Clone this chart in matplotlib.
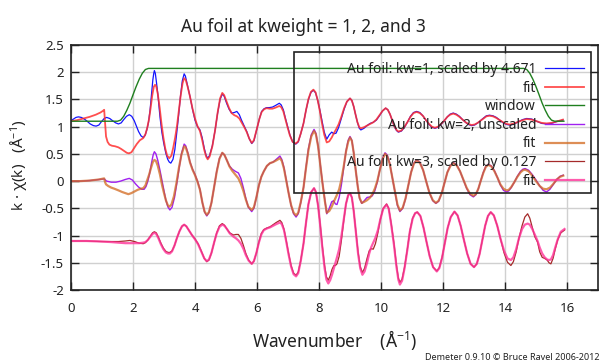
import matplotlib
matplotlib.use("Agg")
import matplotlib.pyplot as plt
from matplotlib.patches import Rectangle

plt.rcParams["font.family"] = ["Noto Sans", "DejaVu Sans"]
plt.rcParams["mathtext.default"] = "regular"

# ---- data, (k, value) ----
# kw=1, scaled by 4.671 (shifted up by 1.1)
kw1_pts = [
    (0.0, 1.11), (0.08, 1.14), (0.16, 1.17), (0.24, 1.18), (0.33, 1.17), (0.43, 1.14), (0.52, 1.10),
    (0.62, 1.05), (0.72, 1.02), (0.81, 1.01), (0.9, 1.03), (0.98, 1.09), (1.07, 1.15), (1.15, 1.17),
    (1.25, 1.15), (1.34, 1.11), (1.44, 1.07), (1.53, 1.05), (1.62, 1.07), (1.7, 1.13), (1.79, 1.19),
    (1.88, 1.22), (1.96, 1.19), (2.04, 1.11), (2.11, 1.01), (2.18, 0.91), (2.26, 0.83), (2.33, 0.80),
    (2.39, 0.84), (2.45, 0.95), (2.5, 1.08), (2.55, 1.30), (2.6, 1.62), (2.64, 1.86), (2.67, 1.98),
    (2.69, 2.03), (2.72, 1.98), (2.76, 1.80), (2.81, 1.55), (2.87, 1.18), (2.93, 0.90), (2.99, 0.70),
    (3.06, 0.51), (3.12, 0.40), (3.17, 0.35), (3.22, 0.33), (3.29, 0.40), (3.35, 0.58), (3.41, 0.88),
    (3.47, 1.20), (3.53, 1.55), (3.59, 1.84), (3.65, 1.97), (3.69, 1.93), (3.75, 1.78), (3.84, 1.55),
    (3.92, 1.32), (4.0, 1.12), (4.08, 1.00), (4.16, 0.94), (4.23, 0.80), (4.3, 0.60), (4.36, 0.47),
    (4.41, 0.42), (4.47, 0.47), (4.56, 0.65), (4.65, 0.94), (4.73, 1.25), (4.81, 1.50), (4.88, 1.60),
    (4.94, 1.56), (5.02, 1.43), (5.1, 1.32), (5.18, 1.25), (5.27, 1.26), (5.35, 1.28), (5.43, 1.22),
    (5.5, 1.12), (5.59, 1.01), (5.67, 0.91), (5.75, 0.78), (5.83, 0.69), (5.9, 0.74), (6.0, 0.97),
    (6.08, 1.15), (6.15, 1.28), (6.23, 1.33), (6.31, 1.35), (6.4, 1.35), (6.5, 1.36), (6.6, 1.39),
    (6.72, 1.43), (6.78, 1.40), (6.85, 1.31), (6.91, 1.17), (6.98, 1.02), (7.06, 0.85), (7.15, 0.72),
    (7.25, 0.68), (7.33, 0.72), (7.41, 0.87), (7.5, 1.06), (7.58, 1.30), (7.66, 1.50), (7.74, 1.63),
    (7.82, 1.67), (7.89, 1.62), (7.96, 1.48), (8.03, 1.30), (8.1, 1.10), (8.17, 0.90), (8.25, 0.77),
    (8.33, 0.85), (8.41, 0.90), (8.48, 0.87), (8.55, 0.88), (8.63, 0.98), (8.72, 1.15), (8.81, 1.32),
    (8.9, 1.46), (9.0, 1.52), (9.06, 1.48), (9.12, 1.37), (9.18, 1.22), (9.24, 1.08), (9.3, 0.97),
    (9.35, 0.94), (9.45, 0.97), (9.55, 1.02), (9.65, 1.06), (9.75, 1.08), (9.85, 1.12), (9.95, 1.20),
    (10.05, 1.29), (10.15, 1.34), (10.22, 1.31), (10.29, 1.23), (10.36, 1.12), (10.43, 1.00),
    (10.5, 0.93), (10.56, 0.90), (10.66, 0.92), (10.76, 0.99), (10.86, 1.09), (10.95, 1.19),
    (11.05, 1.26), (11.15, 1.28), (11.25, 1.26), (11.35, 1.20), (11.45, 1.12), (11.55, 1.04),
    (11.64, 0.99), (11.74, 0.97), (11.84, 0.99), (11.94, 1.04), (12.04, 1.11), (12.14, 1.18),
    (12.23, 1.23), (12.33, 1.25), (12.43, 1.23), (12.53, 1.19), (12.63, 1.13), (12.73, 1.08),
    (12.82, 1.04), (12.92, 1.02), (13.02, 1.03), (13.12, 1.07), (13.21, 1.11), (13.31, 1.16),
    (13.4, 1.20), (13.5, 1.21), (13.61, 1.20), (13.72, 1.17), (13.83, 1.12), (13.94, 1.07),
    (14.05, 1.04), (14.16, 1.03), (14.3, 1.05), (14.43, 1.09), (14.57, 1.13), (14.7, 1.15),
    (14.86, 1.14), (15.02, 1.10), (15.18, 1.06), (15.34, 1.05), (15.5, 1.06), (15.7, 1.10), (15.87, 1.12),
]

fit1_pts = [
    (0.0, 1.10), (0.2, 1.12), (0.4, 1.15), (0.6, 1.18), (0.8, 1.22), (0.95, 1.26), (1.03, 1.29),
    (1.07, 1.31), (1.10, 1.05), (1.13, 0.82), (1.18, 0.72), (1.24, 0.67), (1.32, 0.65), (1.42, 0.64),
    (1.53, 0.62), (1.62, 0.59), (1.72, 0.55), (1.8, 0.52), (1.87, 0.51), (1.95, 0.53), (2.03, 0.60),
    (2.12, 0.68), (2.22, 0.75), (2.33, 0.79), (2.4, 0.86), (2.46, 0.98), (2.52, 1.15), (2.57, 1.35),
    (2.62, 1.57), (2.67, 1.73), (2.71, 1.77), (2.75, 1.74), (2.8, 1.60), (2.86, 1.35), (2.92, 1.05),
    (2.98, 0.80), (3.04, 0.60), (3.1, 0.47), (3.17, 0.42), (3.24, 0.47), (3.3, 0.62), (3.36, 0.80),
    (3.42, 1.02), (3.48, 1.30), (3.54, 1.58), (3.6, 1.80), (3.65, 1.89), (3.7, 1.86), (3.76, 1.74),
    (3.84, 1.55), (3.92, 1.33), (4.0, 1.15), (4.08, 1.01), (4.16, 0.92), (4.23, 0.76), (4.3, 0.57),
    (4.36, 0.45), (4.41, 0.40), (4.47, 0.45), (4.56, 0.64), (4.65, 0.94), (4.73, 1.26), (4.81, 1.52),
    (4.88, 1.62), (4.94, 1.58), (5.02, 1.46), (5.1, 1.34), (5.18, 1.25), (5.27, 1.21), (5.35, 1.19),
    (5.43, 1.15), (5.5, 1.08), (5.59, 0.99), (5.67, 0.90), (5.75, 0.78), (5.83, 0.70), (5.9, 0.75),
    (6.0, 0.97), (6.08, 1.15), (6.15, 1.27), (6.23, 1.32), (6.31, 1.34), (6.4, 1.33), (6.5, 1.33),
    (6.6, 1.35), (6.72, 1.38), (6.78, 1.36), (6.85, 1.28), (6.91, 1.15), (6.98, 1.00), (7.06, 0.84),
    (7.15, 0.72), (7.25, 0.69), (7.33, 0.73), (7.41, 0.87), (7.5, 1.06), (7.58, 1.30), (7.66, 1.51),
    (7.74, 1.64), (7.82, 1.68), (7.89, 1.63), (7.96, 1.48), (8.03, 1.28), (8.1, 1.05), (8.17, 0.85),
    (8.25, 0.71), (8.33, 0.73), (8.41, 0.80), (8.48, 0.88), (8.55, 0.95), (8.63, 1.04), (8.72, 1.18),
    (8.81, 1.34), (8.9, 1.46), (9.0, 1.52), (9.06, 1.48), (9.12, 1.37), (9.18, 1.22), (9.24, 1.08),
    (9.3, 0.99), (9.35, 0.97), (9.45, 0.99), (9.55, 1.02), (9.65, 1.05), (9.75, 1.08), (9.85, 1.13),
    (9.95, 1.21), (10.05, 1.29), (10.15, 1.34), (10.22, 1.31), (10.29, 1.23), (10.36, 1.12),
    (10.43, 1.01), (10.5, 0.94), (10.56, 0.91), (10.66, 0.93), (10.76, 1.00), (10.86, 1.09),
    (10.95, 1.18), (11.05, 1.25), (11.15, 1.27), (11.25, 1.25), (11.35, 1.20), (11.45, 1.12),
    (11.55, 1.05), (11.64, 1.00), (11.74, 0.98), (11.84, 1.00), (11.94, 1.05), (12.04, 1.11),
    (12.14, 1.18), (12.23, 1.22), (12.33, 1.24), (12.43, 1.22), (12.53, 1.18), (12.63, 1.13),
    (12.73, 1.08), (12.82, 1.05), (12.92, 1.03), (13.02, 1.04), (13.12, 1.07), (13.21, 1.11),
    (13.31, 1.15), (13.4, 1.19), (13.5, 1.20), (13.61, 1.19), (13.72, 1.16), (13.83, 1.12),
    (13.94, 1.08), (14.05, 1.05), (14.16, 1.04), (14.3, 1.06), (14.43, 1.09), (14.57, 1.12),
    (14.7, 1.14), (14.86, 1.13), (15.02, 1.10), (15.18, 1.07), (15.34, 1.06), (15.5, 1.07),
    (15.7, 1.10), (15.87, 1.13),
]

# window (shifted up by 1.1)
win_pts = [
    (0.0, 1.10), (1.5, 1.10), (1.6, 1.12), (1.7, 1.19), (1.8, 1.30), (1.9, 1.43), (2.0, 1.585),
    (2.1, 1.735), (2.2, 1.87), (2.3, 1.98), (2.4, 2.05), (2.5, 2.07), (14.6, 2.07), (14.7, 2.05),
    (14.8, 1.98), (14.9, 1.87), (15.0, 1.735), (15.1, 1.585), (15.2, 1.43), (15.3, 1.30),
    (15.4, 1.19), (15.5, 1.12), (15.6, 1.10), (15.9, 1.10),
]

# kw=2, unscaled
kw2_pts = [
    (0.0, 0.0), (0.3, 0.0), (0.6, 0.01), (0.9, 0.03), (1.07, 0.04), (1.15, 0.0), (1.3, -0.02),
    (1.45, -0.02), (1.6, 0.0), (1.75, 0.03), (1.88, 0.05), (1.98, 0.02), (2.08, -0.05), (2.18, -0.11),
    (2.28, -0.15), (2.36, -0.15), (2.42, -0.10), (2.48, 0.0), (2.54, 0.15), (2.6, 0.34), (2.65, 0.48),
    (2.69, 0.54), (2.74, 0.50), (2.8, 0.38), (2.87, 0.20), (2.94, 0.0), (3.0, -0.18), (3.06, -0.35),
    (3.13, -0.48), (3.19, -0.53), (3.26, -0.48), (3.34, -0.30), (3.42, -0.02), (3.5, 0.28), (3.57, 0.52),
    (3.65, 0.68), (3.7, 0.65), (3.77, 0.52), (3.84, 0.35), (3.92, 0.22), (4.0, 0.12), (4.08, 0.0),
    (4.16, -0.15), (4.24, -0.40), (4.31, -0.57), (4.38, -0.64), (4.45, -0.58), (4.53, -0.40),
    (4.62, -0.10), (4.7, 0.18), (4.79, 0.42), (4.88, 0.52), (4.95, 0.48), (5.03, 0.38), (5.11, 0.28),
    (5.2, 0.22), (5.3, 0.18), (5.4, 0.15), (5.48, 0.05), (5.56, -0.12), (5.64, -0.32), (5.72, -0.48),
    (5.83, -0.56), (5.9, -0.50), (5.98, -0.30), (6.06, -0.08), (6.14, 0.08), (6.22, 0.18), (6.32, 0.28),
    (6.42, 0.33), (6.52, 0.35), (6.62, 0.40), (6.74, 0.46), (6.8, 0.40), (6.87, 0.25), (6.94, 0.03),
    (7.02, -0.22), (7.1, -0.45), (7.18, -0.60), (7.26, -0.66), (7.33, -0.60), (7.41, -0.40),
    (7.5, -0.12), (7.58, 0.25), (7.66, 0.60), (7.75, 0.85), (7.84, 0.95), (7.9, 0.88), (7.97, 0.65),
    (8.04, 0.32), (8.11, -0.02), (8.19, -0.35), (8.25, -0.60), (8.33, -0.50), (8.41, -0.38),
    (8.47, -0.36), (8.53, -0.42), (8.58, -0.43), (8.65, -0.30), (8.72, -0.08), (8.8, 0.25), (8.87, 0.55),
    (8.94, 0.75), (9.0, 0.82), (9.06, 0.75), (9.12, 0.52), (9.18, 0.22), (9.25, -0.10), (9.31, -0.32),
    (9.38, -0.41), (9.46, -0.36), (9.55, -0.30), (9.65, -0.29), (9.72, -0.27), (9.8, -0.18),
    (9.88, -0.02), (9.96, 0.20), (10.05, 0.42), (10.13, 0.52), (10.2, 0.48), (10.28, 0.33),
    (10.36, 0.08), (10.45, -0.20), (10.53, -0.45), (10.61, -0.56), (10.7, -0.50), (10.79, -0.33),
    (10.88, -0.08), (10.97, 0.16), (11.06, 0.33), (11.15, 0.39), (11.25, 0.35), (11.36, 0.20),
    (11.46, -0.01), (11.56, -0.21), (11.67, -0.36), (11.77, -0.41), (11.86, -0.37), (11.96, -0.22),
    (12.05, -0.03), (12.14, 0.16), (12.24, 0.29), (12.33, 0.34), (12.44, 0.30), (12.55, 0.18),
    (12.66, 0.02), (12.76, -0.13), (12.87, -0.25), (12.98, -0.29), (13.06, -0.25), (13.14, -0.14),
    (13.22, 0.01), (13.3, 0.16), (13.38, 0.27), (13.46, 0.31), (13.56, 0.28), (13.66, 0.19),
    (13.76, 0.06), (13.85, -0.07), (13.95, -0.17), (14.05, -0.20), (14.12, -0.18), (14.2, -0.12),
    (14.3, -0.02), (14.4, 0.09), (14.5, 0.18), (14.58, 0.22), (14.65, 0.23), (14.76, 0.20),
    (14.88, 0.12), (15.0, 0.02), (15.12, -0.09), (15.23, -0.17), (15.34, -0.20), (15.45, -0.15),
    (15.56, -0.06), (15.67, 0.03), (15.78, 0.09), (15.88, 0.11),
]

fit2_pts = [
    (0.0, 0.0), (0.3, 0.0), (0.6, 0.01), (0.9, 0.03), (1.07, 0.05), (1.10, -0.02), (1.13, -0.06),
    (1.2, -0.09), (1.3, -0.12), (1.4, -0.14), (1.53, -0.17), (1.65, -0.20), (1.75, -0.22), (1.85, -0.24),
    (1.95, -0.22), (2.05, -0.19), (2.15, -0.16), (2.25, -0.14), (2.33, -0.13), (2.4, -0.08), (2.46, 0.02),
    (2.52, 0.12), (2.58, 0.24), (2.64, 0.35), (2.69, 0.39), (2.74, 0.37), (2.8, 0.28), (2.87, 0.12),
    (2.94, -0.08), (3.0, -0.22), (3.06, -0.35), (3.12, -0.44), (3.17, -0.47), (3.24, -0.43),
    (3.32, -0.28), (3.4, -0.04), (3.48, 0.24), (3.56, 0.48), (3.65, 0.64), (3.7, 0.62), (3.77, 0.50),
    (3.84, 0.34), (3.92, 0.21), (4.0, 0.11), (4.08, -0.01), (4.16, -0.16), (4.24, -0.40), (4.31, -0.56),
    (4.38, -0.62), (4.45, -0.57), (4.53, -0.40), (4.62, -0.10), (4.7, 0.17), (4.79, 0.41), (4.88, 0.52),
    (4.95, 0.48), (5.03, 0.38), (5.11, 0.27), (5.2, 0.19), (5.3, 0.12), (5.4, 0.05), (5.48, -0.05),
    (5.56, -0.18), (5.64, -0.34), (5.72, -0.47), (5.83, -0.53), (5.9, -0.48), (5.98, -0.30),
    (6.06, -0.08), (6.14, 0.08), (6.22, 0.18), (6.32, 0.28), (6.42, 0.33), (6.52, 0.35), (6.62, 0.38),
    (6.74, 0.42), (6.8, 0.37), (6.87, 0.23), (6.94, 0.02), (7.02, -0.22), (7.1, -0.44), (7.18, -0.58),
    (7.26, -0.63), (7.33, -0.58), (7.41, -0.39), (7.5, -0.12), (7.58, 0.24), (7.66, 0.57), (7.75, 0.82),
    (7.84, 0.92), (7.9, 0.86), (7.97, 0.64), (8.04, 0.31), (8.11, -0.03), (8.19, -0.37), (8.25, -0.58),
    (8.33, -0.55), (8.41, -0.47), (8.5, -0.35), (8.58, -0.25), (8.65, -0.15), (8.72, 0.02), (8.8, 0.28),
    (8.87, 0.54), (8.94, 0.72), (9.0, 0.80), (9.06, 0.74), (9.12, 0.52), (9.18, 0.22), (9.25, -0.10),
    (9.31, -0.31), (9.38, -0.40), (9.46, -0.38), (9.55, -0.35), (9.65, -0.30), (9.72, -0.24),
    (9.8, -0.14), (9.88, 0.0), (9.96, 0.20), (10.05, 0.40), (10.13, 0.50), (10.2, 0.46), (10.28, 0.32),
    (10.36, 0.08), (10.45, -0.20), (10.53, -0.43), (10.61, -0.54), (10.7, -0.49), (10.79, -0.32),
    (10.88, -0.08), (10.97, 0.16), (11.06, 0.32), (11.15, 0.38), (11.25, 0.34), (11.36, 0.20),
    (11.46, -0.01), (11.56, -0.21), (11.67, -0.35), (11.77, -0.40), (11.86, -0.36), (11.96, -0.22),
    (12.05, -0.03), (12.14, 0.16), (12.24, 0.28), (12.33, 0.33), (12.44, 0.29), (12.55, 0.18),
    (12.66, 0.02), (12.76, -0.12), (12.87, -0.23), (12.98, -0.27), (13.06, -0.24), (13.14, -0.14),
    (13.22, 0.01), (13.3, 0.15), (13.38, 0.26), (13.46, 0.30), (13.56, 0.27), (13.66, 0.18),
    (13.76, 0.06), (13.85, -0.06), (13.95, -0.14), (14.05, -0.17), (14.12, -0.16), (14.2, -0.11),
    (14.3, -0.02), (14.4, 0.08), (14.5, 0.16), (14.58, 0.20), (14.65, 0.21), (14.76, 0.18),
    (14.88, 0.10), (15.0, 0.0), (15.12, -0.09), (15.23, -0.14), (15.34, -0.15), (15.45, -0.12),
    (15.56, -0.05), (15.67, 0.03), (15.78, 0.08), (15.88, 0.10),
]

# kw=3, scaled by 0.127 (shifted down by 1.1)
kw3_pts = [
    (0.0, -1.10), (0.5, -1.10), (1.0, -1.11), (1.3, -1.11), (1.53, -1.11), (1.75, -1.10), (1.9, -1.09),
    (2.05, -1.11), (2.2, -1.14), (2.33, -1.15), (2.4, -1.13), (2.48, -1.08), (2.56, -1.01), (2.63, -0.95),
    (2.69, -0.93), (2.75, -0.95), (2.82, -1.03), (2.9, -1.14), (2.98, -1.23), (3.06, -1.29), (3.13, -1.31),
    (3.19, -1.31), (3.26, -1.28), (3.34, -1.18), (3.42, -1.04), (3.5, -0.92), (3.58, -0.83), (3.65, -0.80),
    (3.72, -0.83), (3.8, -0.90), (3.9, -0.99), (4.0, -1.06), (4.1, -1.15), (4.2, -1.28), (4.3, -1.42),
    (4.38, -1.48), (4.45, -1.45), (4.53, -1.32), (4.62, -1.12), (4.7, -0.95), (4.79, -0.82), (4.88, -0.78),
    (4.95, -0.81), (5.03, -0.88), (5.12, -0.95), (5.24, -0.99), (5.32, -0.98), (5.4, -0.98), (5.48, -1.05),
    (5.56, -1.18), (5.64, -1.33), (5.73, -1.45), (5.83, -1.52), (5.9, -1.47), (5.98, -1.32), (6.06, -1.12),
    (6.14, -0.96), (6.22, -0.89), (6.32, -0.86), (6.42, -0.84), (6.52, -0.80), (6.62, -0.76), (6.74, -0.72),
    (6.8, -0.76), (6.87, -0.88), (6.94, -1.08), (7.02, -1.33), (7.1, -1.55), (7.18, -1.69), (7.26, -1.73),
    (7.33, -1.67), (7.41, -1.46), (7.5, -1.15), (7.58, -0.77), (7.66, -0.42), (7.75, -0.20), (7.84, -0.13),
    (7.9, -0.20), (7.97, -0.45), (8.04, -0.80), (8.11, -1.20), (8.18, -1.55), (8.24, -1.76), (8.3, -1.82),
    (8.36, -1.74), (8.42, -1.62), (8.48, -1.55), (8.53, -1.55), (8.58, -1.52), (8.65, -1.38), (8.72, -1.10),
    (8.8, -0.72), (8.87, -0.42), (8.94, -0.26), (9.0, -0.22), (9.06, -0.30), (9.12, -0.55), (9.19, -0.92),
    (9.26, -1.30), (9.33, -1.57), (9.4, -1.68), (9.47, -1.60), (9.55, -1.42), (9.62, -1.28), (9.68, -1.24),
    (9.75, -1.25), (9.82, -1.15), (9.9, -0.95), (9.98, -0.70), (10.07, -0.50), (10.18, -0.42),
    (10.25, -0.50), (10.33, -0.78), (10.42, -1.15), (10.5, -1.55), (10.56, -1.78), (10.61, -1.86),
    (10.68, -1.80), (10.76, -1.58), (10.85, -1.25), (10.93, -0.92), (11.02, -0.68), (11.1, -0.59),
    (11.17, -0.57), (11.27, -0.64), (11.37, -0.85), (11.47, -1.12), (11.57, -1.38), (11.68, -1.58),
    (11.8, -1.65), (11.88, -1.59), (11.97, -1.40), (12.06, -1.13), (12.15, -0.86), (12.25, -0.66),
    (12.37, -0.56), (12.47, -0.63), (12.57, -0.82), (12.67, -1.07), (12.78, -1.33), (12.89, -1.52),
    (13.0, -1.58), (13.09, -1.52), (13.18, -1.34), (13.27, -1.08), (13.36, -0.82), (13.45, -0.64),
    (13.54, -0.57), (13.64, -0.63), (13.75, -0.82), (13.86, -1.07), (13.97, -1.32), (14.08, -1.49),
    (14.19, -1.55), (14.27, -1.48), (14.36, -1.30), (14.45, -1.05), (14.55, -0.82), (14.64, -0.66),
    (14.73, -0.60), (14.8, -0.68), (14.88, -0.85), (14.96, -1.02), (15.05, -1.12), (15.12, -1.30),
    (15.2, -1.40), (15.28, -1.42), (15.36, -1.45), (15.42, -1.50), (15.48, -1.52), (15.55, -1.42),
    (15.62, -1.25), (15.7, -1.08), (15.8, -0.95), (15.92, -0.90),
]

fit3_pts = [
    (0.0, -1.10), (0.5, -1.10), (1.0, -1.11), (1.3, -1.12), (1.53, -1.13), (1.75, -1.14), (1.9, -1.14),
    (2.05, -1.14), (2.2, -1.14), (2.33, -1.13), (2.4, -1.12), (2.48, -1.08), (2.56, -1.02), (2.63, -0.97),
    (2.69, -0.95), (2.75, -0.97), (2.82, -1.05), (2.9, -1.16), (2.98, -1.25), (3.06, -1.31), (3.13, -1.33),
    (3.19, -1.33), (3.26, -1.29), (3.34, -1.18), (3.42, -1.04), (3.5, -0.92), (3.58, -0.83), (3.65, -0.80),
    (3.72, -0.83), (3.8, -0.90), (3.9, -0.99), (4.0, -1.07), (4.1, -1.16), (4.2, -1.29), (4.3, -1.42),
    (4.38, -1.47), (4.45, -1.44), (4.53, -1.32), (4.62, -1.12), (4.7, -0.96), (4.79, -0.84), (4.88, -0.80),
    (4.95, -0.82), (5.03, -0.88), (5.12, -0.96), (5.24, -1.02), (5.32, -1.05), (5.4, -1.09), (5.48, -1.15),
    (5.56, -1.24), (5.64, -1.36), (5.73, -1.46), (5.83, -1.52), (5.9, -1.47), (5.98, -1.32), (6.06, -1.13),
    (6.14, -0.98), (6.22, -0.90), (6.32, -0.87), (6.42, -0.85), (6.52, -0.82), (6.62, -0.79), (6.74, -0.76),
    (6.8, -0.79), (6.87, -0.90), (6.94, -1.10), (7.02, -1.35), (7.1, -1.57), (7.18, -1.71), (7.26, -1.75),
    (7.33, -1.69), (7.41, -1.47), (7.5, -1.15), (7.58, -0.77), (7.66, -0.42), (7.75, -0.20), (7.84, -0.13),
    (7.9, -0.20), (7.97, -0.45), (8.04, -0.82), (8.11, -1.24), (8.18, -1.60), (8.24, -1.81), (8.3, -1.88),
    (8.36, -1.82), (8.42, -1.72), (8.48, -1.60), (8.53, -1.50), (8.58, -1.40), (8.65, -1.25), (8.72, -1.02),
    (8.8, -0.70), (8.87, -0.42), (8.94, -0.26), (9.0, -0.22), (9.06, -0.30), (9.12, -0.55), (9.19, -0.94),
    (9.26, -1.33), (9.33, -1.60), (9.4, -1.72), (9.47, -1.66), (9.55, -1.50), (9.62, -1.33), (9.68, -1.22),
    (9.75, -1.13), (9.82, -1.04), (9.9, -0.90), (9.98, -0.70), (10.07, -0.51), (10.18, -0.43),
    (10.25, -0.51), (10.33, -0.80), (10.42, -1.18), (10.5, -1.58), (10.56, -1.81), (10.61, -1.90),
    (10.68, -1.83), (10.76, -1.60), (10.85, -1.26), (10.93, -0.93), (11.02, -0.69), (11.1, -0.59),
    (11.17, -0.57), (11.27, -0.64), (11.37, -0.85), (11.47, -1.12), (11.57, -1.38), (11.68, -1.58),
    (11.8, -1.66), (11.88, -1.60), (11.97, -1.41), (12.06, -1.13), (12.15, -0.86), (12.25, -0.66),
    (12.37, -0.56), (12.47, -0.63), (12.57, -0.82), (12.67, -1.07), (12.78, -1.33), (12.89, -1.52),
    (13.0, -1.58), (13.09, -1.52), (13.18, -1.34), (13.27, -1.08), (13.36, -0.82), (13.45, -0.64),
    (13.54, -0.57), (13.64, -0.63), (13.75, -0.82), (13.86, -1.07), (13.97, -1.28), (14.08, -1.42),
    (14.19, -1.45), (14.27, -1.40), (14.36, -1.25), (14.45, -1.05), (14.55, -0.88), (14.64, -0.80),
    (14.73, -0.78), (14.8, -0.80), (14.88, -0.88), (14.96, -0.98), (15.05, -1.10), (15.12, -1.22),
    (15.2, -1.33), (15.28, -1.40), (15.36, -1.44), (15.42, -1.45), (15.48, -1.44), (15.55, -1.36),
    (15.62, -1.22), (15.7, -1.07), (15.8, -0.93), (15.92, -0.88),
]

labels = ["Au foil: kw=1, scaled by 4.671", "fit", "window",
          "Au foil: kw=2, unscaled", "fit",
          "Au foil: kw=3, scaled by 0.127", "fit"]
colors = ["#1414ff", "#ff3030", "#1f7f1f", "#a020f0", "#d2691e", "#a52a2a", "#ff3399"]

series = [kw1_pts, fit1_pts, win_pts, kw2_pts, fit2_pts, kw3_pts, fit3_pts]
widths = [0.9, 1.3, 1.0, 1.0, 1.6, 0.9, 1.6]
alphas = [1.0, 0.85, 1.0, 1.0, 0.75, 1.0, 0.8]

fig = plt.figure(figsize=(6.0, 3.63), dpi=100)
ax = fig.add_axes([71 / 600, 73 / 363, 527 / 600, 245 / 363])

for pts, lab, col, lw, al in zip(series, labels, colors, widths, alphas):
    ks, vs = zip(*pts)
    ax.plot(ks, vs, color=col, lw=lw, alpha=al, label=lab)

ax.set_xlim(0, 17)
ax.set_ylim(-2, 2.5)
ax.set_xticks(range(0, 17, 2))
ax.set_yticks([-2, -1.5, -1, -0.5, 0, 0.5, 1, 1.5, 2, 2.5])
ax.set_yticklabels(["-2", "-1.5", "-1", "-0.5", "0", "0.5", "1", "1.5", "2", "2.5"])
ax.grid(True, color="#d0d0d0", lw=1.0)
ax.set_axisbelow(True)
ax.tick_params(direction="in", length=6, width=1, top=True, right=True,
               labelsize=9.5, colors="#222222", pad=5)
ax.tick_params(axis="x", pad=9)
for s in ax.spines.values():
    s.set_color("#222222")
    s.set_linewidth(1.2)

leg = ax.legend(loc="upper right", bbox_to_anchor=((584 - 71) / 527, (290 - 62) / 245),
                frameon=False, markerfirst=False, fontsize=10, handlelength=2.8,
                handletextpad=0.65, labelspacing=0.26, borderpad=0, borderaxespad=0)
for t in leg.get_texts():
    t.set_color("#222222")
ax.add_patch(Rectangle(((294 - 71) / 527, (290 - 193) / 245), (591 - 294) / 527, (193 - 52) / 245,
                       transform=ax.transAxes, fill=False, edgecolor="#222222", lw=1.2, zorder=5))

fig.text(303 / 600, 1 - 32 / 363, "Au foil at kweight = 1, 2, and 3", ha="center", va="baseline",
         fontsize=12.5, color="#222222")
fig.text(334.5 / 600, 1 - 347 / 363, "Wavenumber    (Å$^{-1}$)", ha="center", va="baseline",
         fontsize=12.5, color="#222222")
fig.text(20 / 600, 1 - 165.5 / 363, "k · χ(k)   (Å$^{-1}$)", ha="center", va="center",
         rotation=90, fontsize=11, color="#222222")
fig.text(0.999, 0.004, "Demeter 0.9.10 © Bruce Ravel 2006-2012", ha="right", va="bottom",
         fontsize=6.5, color="#222222")

fig.savefig("out.png", dpi=100)
